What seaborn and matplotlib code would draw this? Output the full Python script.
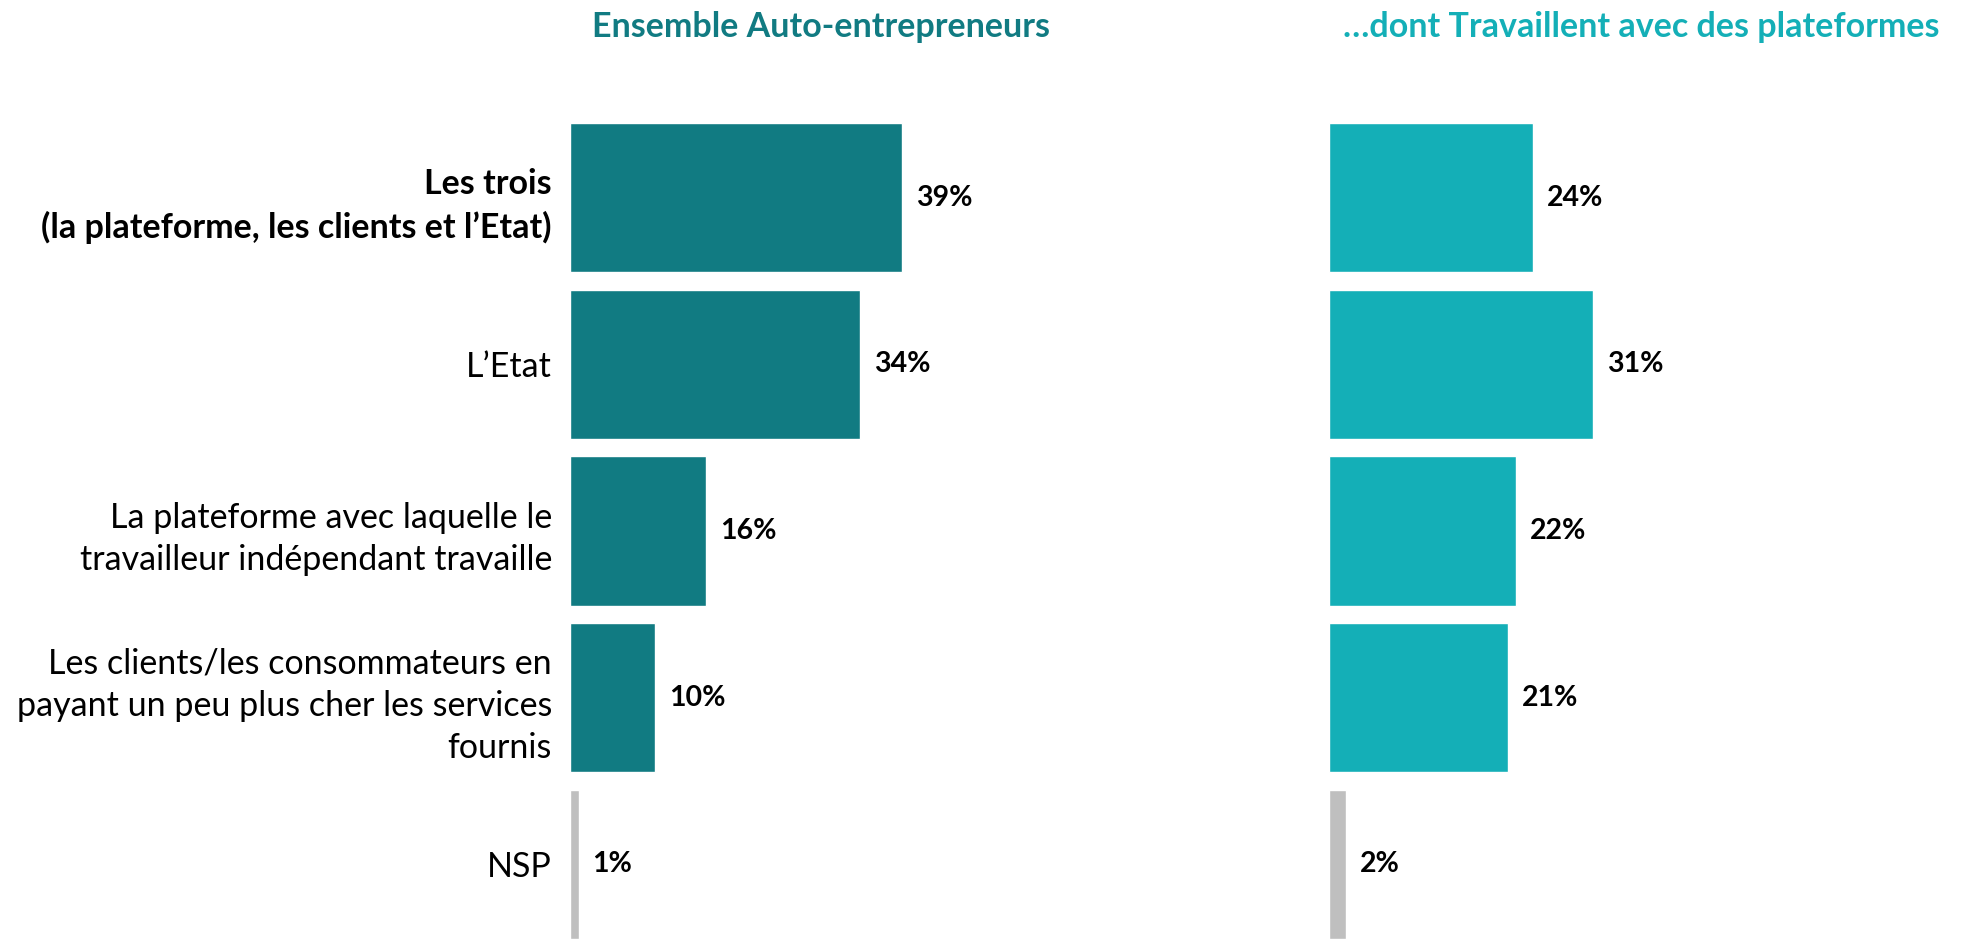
import matplotlib
matplotlib.use("Agg")
import matplotlib.pyplot as plt
import seaborn as sns
import pandas as pd

categories = [
    "Les trois\n(la plateforme, les clients et l\u2019Etat)",
    "L\u2019Etat",
    "La plateforme avec laquelle le\ntravailleur ind\u00e9pendant travaille",
    "Les clients/les consommateurs en\npayant un peu plus cher les services\nfournis",
    "NSP",
]
ensemble = [39, 34, 16, 10, 1]
plateformes = [24, 31, 22, 21, 2]
titles = ["Ensemble Auto-entrepreneurs", "\u2026dont Travaillent avec des plateformes"]

TEAL = "#117B82"
CYAN = "#14AFB7"
GREY = "#BFBFBF"

sns.set_theme(style="white")
plt.rcParams["font.family"] = ["Lato", "DejaVu Sans"]

W, H = 1972, 939
fig = plt.figure(figsize=(W / 100, H / 100), dpi=100)

ax_top = 123
ax_h = H - ax_top
px_per_pct = 8.52
xmax_l = 70
xmax_r = 75
ax1 = fig.add_axes([570 / W, 0, xmax_l * px_per_pct / W, ax_h / H])
ax2 = fig.add_axes([1329 / W, 0, xmax_r * px_per_pct / W, ax_h / H])

bw = 0.895
for ax, vals, col, xmax in [(ax1, ensemble, TEAL, xmax_l), (ax2, plateformes, CYAN, xmax_r)]:
    df = pd.DataFrame({"cat": categories, "val": vals})
    pal = {c: (GREY if c == "NSP" else col) for c in categories}
    sns.barplot(data=df, y="cat", x="val", hue="cat", palette=pal, order=categories,
                hue_order=categories, width=bw, legend=False, ax=ax, saturation=1)
    ax.set_xlim(0, xmax)
    ax.set_ylim(len(categories) - 1 + bw / 2, -bw / 2)
    for cont in ax.containers:
        ax.bar_label(cont, fmt="%d%%", padding=10, fontsize=20.5, fontweight="bold",
                     color="black")
    ax.set_xlabel("")
    ax.set_ylabel("")
    ax.set_xticks([])
    for s in ax.spines.values():
        s.set_visible(False)

ax1.tick_params(axis="y", length=0, pad=13, labelsize=24.5)
ax1.set_yticks(range(len(categories)))
ax1.set_yticklabels(categories, linespacing=1.4)
lbls = ax1.get_yticklabels()
lbls[0].set_fontweight("bold")
for l in lbls:
    l.set_color("black")
ax2.set_yticks([])

fig.text(821 / W, 1 - 27 / H, titles[0], ha="center", va="center", fontsize=24.5,
         fontweight="bold", color=TEAL)
fig.text(1641 / W, 1 - 27 / H, titles[1], ha="center", va="center", fontsize=24.5,
         fontweight="bold", color=CYAN)

fig.savefig("out.png", dpi=100, facecolor="white")
